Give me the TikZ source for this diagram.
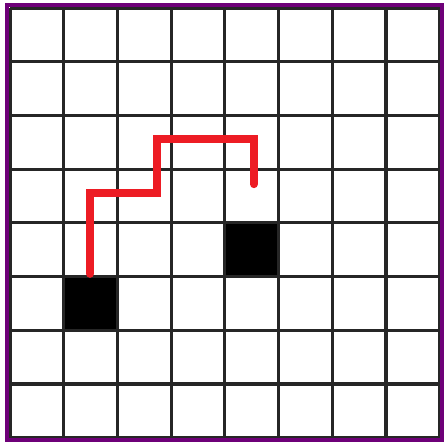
\documentclass[tikz,border=0pt]{standalone}
\usepackage{tikz}
\definecolor{pathred}{RGB}{237,28,36}
\definecolor{framepurple}{RGB}{110,0,120}

\begin{document}
\begin{tikzpicture}[
  gridline/.style={draw=black!85, line width=1.6pt},
  frame/.style={draw=framepurple, line width=2.2pt},
  blocked/.style={fill=black},
  route/.style={draw=pathred, line width=4.2pt, line cap=round, line join=miter},
  x=1cm, y=1cm
]
\useasboundingbox (-0.186,0.149) rectangle (8.08,-8.10);

% blocked cells
\fill[blocked] (1,-5) rectangle (2,-6);
\fill[blocked] (4,-4) rectangle (5,-5);

% grid
\foreach \i in {0,...,8} {
  \draw[gridline] (\i,0) -- (\i,-8);
  \draw[gridline] (0,-\i) -- (8,-\i);
}

% outer frame
\draw[frame] (-0.06,0.05) rectangle (8.04,-8.05);

% route
\draw[route] (1.49,-4.95) -- (1.49,-3.45) -- (2.73,-3.45) -- (2.73,-2.44)
  -- (4.54,-2.44) -- (4.54,-3.28);
\end{tikzpicture}
\end{document}
